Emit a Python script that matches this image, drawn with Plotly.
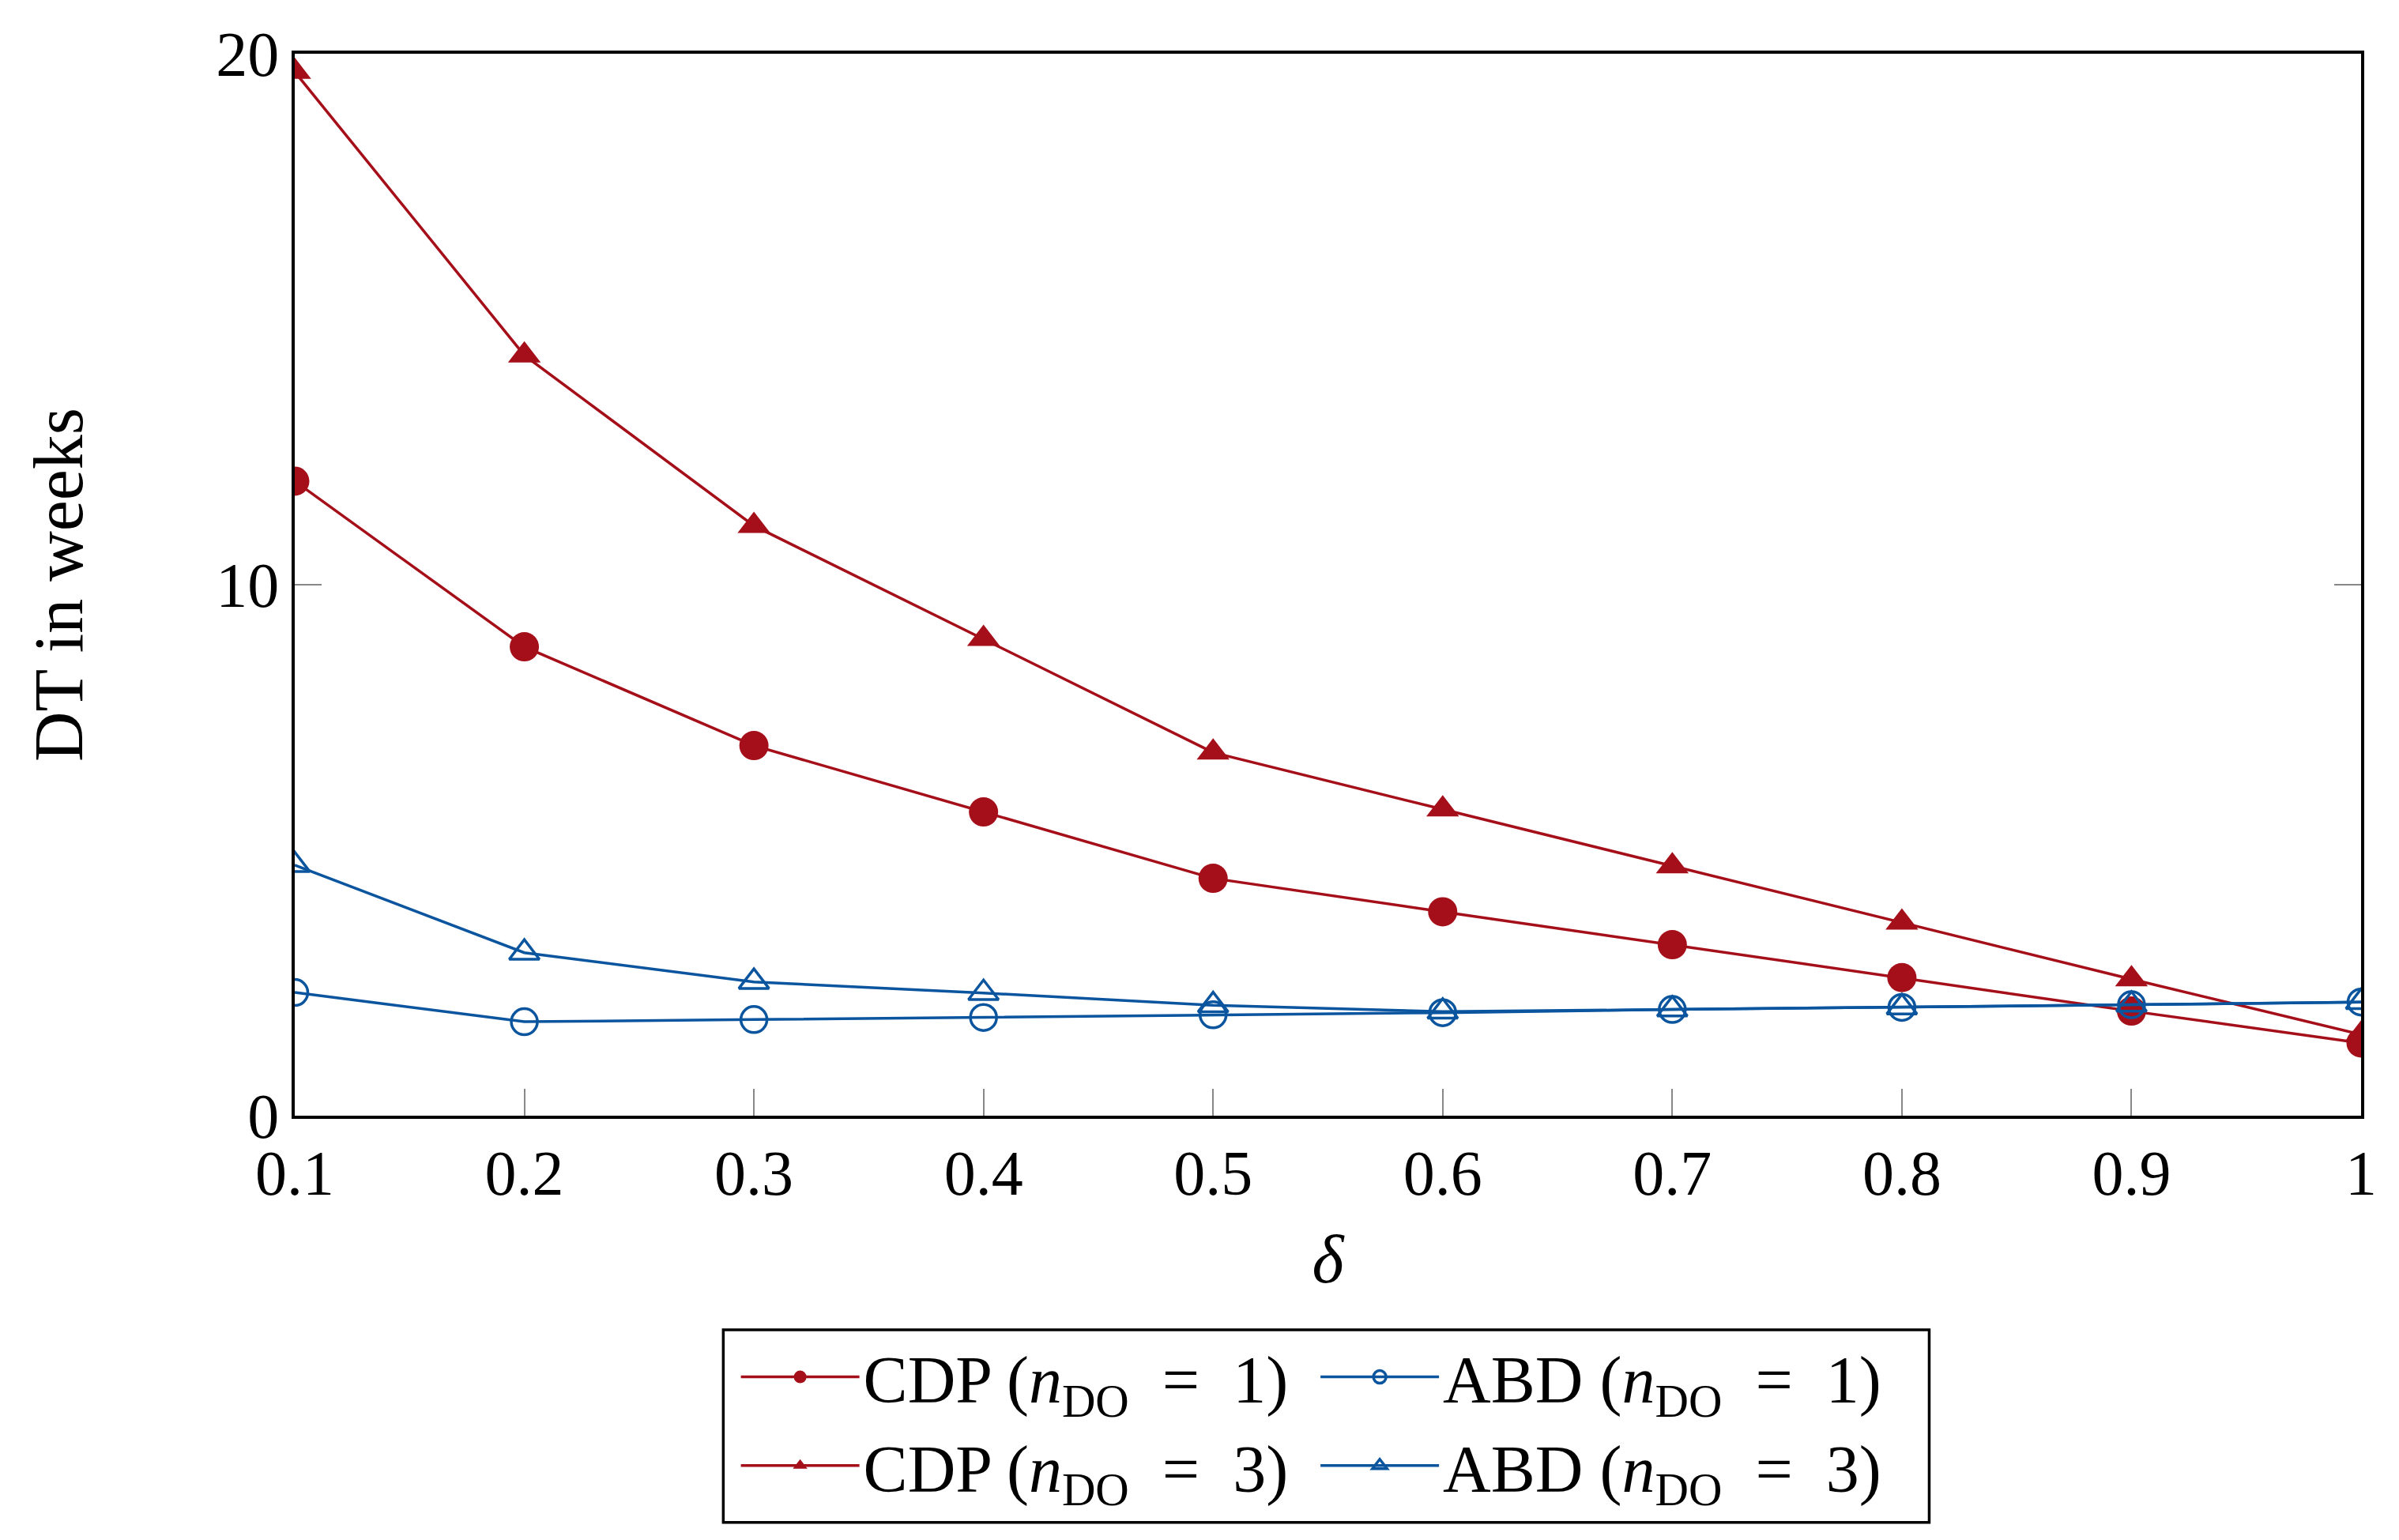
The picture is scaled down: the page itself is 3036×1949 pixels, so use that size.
import plotly.graph_objects as go

# values
delta = [0.1, 0.2, 0.3, 0.4, 0.5, 0.6, 0.7, 0.8, 0.9, 1.0]
cdp_n1 = [11.95, 8.83, 6.97, 5.72, 4.47, 3.84, 3.22, 2.60, 1.97, 1.37]
cdp_n3 = [19.66, 14.32, 11.11, 8.98, 6.84, 5.77, 4.70, 3.64, 2.57, 1.53]
abd_n1 = [2.32, 1.77, 1.81, 1.85, 1.90, 1.94, 2.00, 2.04, 2.09, 2.14]
abd_n3 = [4.72, 3.07, 2.52, 2.31, 2.08, 1.96, 2.00, 2.04, 2.09, 2.14]

x_ticks = [0.1, 0.2, 0.3, 0.4, 0.5, 0.6, 0.7, 0.8, 0.9, 1.0]
x_ticktext = ["0.1", "0.2", "0.3", "0.4", "0.5", "0.6", "0.7", "0.8", "0.9", "1"]
y_ticks = [0, 10, 20]

names = [
    "CDP (<i>n</i><sub>DO</sub>\u2002=\u20021)",
    "CDP (<i>n</i><sub>DO</sub>\u2002=\u20023)",
    "ABD (<i>n</i><sub>DO</sub>\u2002=\u20021)",
    "ABD (<i>n</i><sub>DO</sub>\u2002=\u20023)",
]

RED = "#A50F19"
BLUE = "#0B559F"
FONT = "Liberation Serif"

fig = go.Figure()
fig.add_trace(go.Scatter(x=delta, y=cdp_n1, name=names[0], mode="lines+markers",
                         line=dict(color=RED, width=3.5),
                         marker=dict(symbol="circle", size=37, color=RED),
                         legend="legend"))
fig.add_trace(go.Scatter(x=delta, y=cdp_n3, name=names[1], mode="lines+markers",
                         line=dict(color=RED, width=3.5),
                         marker=dict(symbol="triangle-up", size=36, color=RED),
                         legend="legend"))
fig.add_trace(go.Scatter(x=delta, y=abd_n1, name=names[2], mode="lines+markers",
                         line=dict(color=BLUE, width=3.5),
                         marker=dict(symbol="circle-open", size=33, color=BLUE,
                                     line=dict(width=3.5, color=BLUE)),
                         legend="legend2"))
fig.add_trace(go.Scatter(x=delta, y=abd_n3, name=names[3], mode="lines+markers",
                         line=dict(color=BLUE, width=3.5),
                         marker=dict(symbol="triangle-up-open", size=33, color=BLUE,
                                     line=dict(width=3.5, color=BLUE)),
                         legend="legend2"))

legend_style = dict(
    orientation="v",
    xanchor="left",
    yanchor="top",
    font=dict(family=FONT, size=84, color="black"),
    bgcolor="rgba(0,0,0,0)",
    borderwidth=0,
    itemwidth=150,
    tracegroupgap=0,
)

fig.update_layout(
    width=3036,
    height=1949,
    paper_bgcolor="white",
    plot_bgcolor="white",
    margin=dict(l=365, r=56, t=60, b=545),
    font=dict(family=FONT, size=80, color="black"),
    legend=dict(x=0.214, y=-0.2005, **legend_style),
    legend2=dict(x=0.4945, y=-0.2005, **legend_style),
    xaxis=dict(
        range=[0.1, 1.0],
        tickvals=x_ticks,
        ticktext=x_ticktext,
        ticks="inside",
        ticklen=34,
        tickwidth=1.5,
        tickcolor="#888888",
        showline=True,
        linecolor="black",
        linewidth=3.5,
        mirror=True,
        showgrid=False,
        zeroline=False,
        tickfont=dict(family=FONT, size=80),
        title=dict(text="<i>δ</i>", font=dict(family=FONT, size=86), standoff=36),
        automargin=False,
    ),
    yaxis=dict(
        range=[0, 20],
        tickvals=y_ticks,
        ticks="inside",
        ticklen=34,
        tickwidth=1.5,
        tickcolor="#888888",
        showline=True,
        linecolor="black",
        linewidth=3.5,
        mirror="ticks",
        showgrid=False,
        zeroline=False,
        tickfont=dict(family=FONT, size=80),
        title=dict(text="DT in weeks", font=dict(family=FONT, size=88), standoff=140),
        automargin=False,
    ),
    shapes=[
        dict(type="rect", xref="paper", yref="paper",
             x0=0.2074, x1=0.791, y0=-0.383, y1=-0.2016,
             line=dict(color="black", width=3.5), fillcolor="rgba(0,0,0,0)"),
    ],
)

fig.write_html("out.html")
